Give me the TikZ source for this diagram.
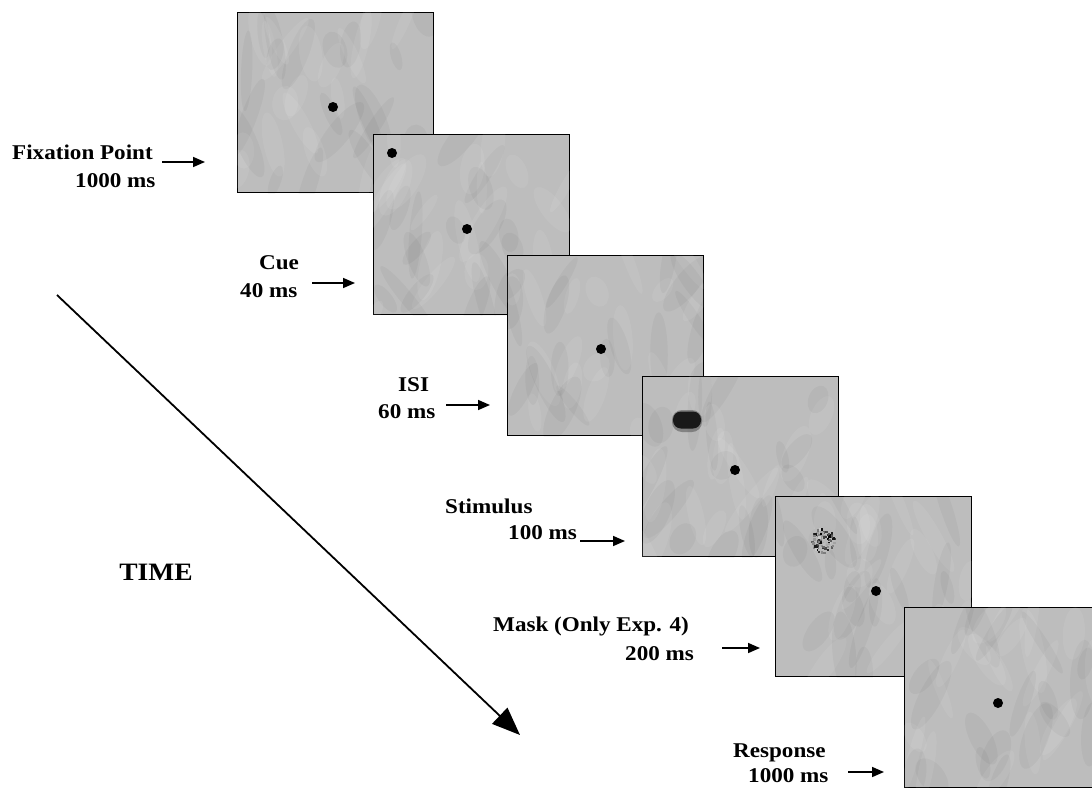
\documentclass[tikz,border=0pt]{standalone}
\usepackage{fontspec}
\setmainfont{Liberation Serif}[FakeStretch=1.1]
\usepackage{xcolor}
\usepackage{tikz}
\usetikzlibrary{arrows.meta}

\definecolor{scrgray}{gray}{0.74}

\tikzset{
  screen/.style={draw=black, line width=1.3pt, fill=scrgray, minimum width=196pt,
    minimum height=180pt, anchor=north west, inner sep=0pt},
  fixdot/.style={circle, fill=black, minimum size=10pt, inner sep=0pt},
  lbl/.style={font=\bfseries\fontsize{21}{25}\selectfont, anchor=base west, inner sep=0pt},
  pointer/.style={-{Triangle[length=12pt,width=10pt]}, line width=1.6pt},
  timearrow/.style={-{Triangle[length=28pt,width=22pt]}, line width=1.8pt},
}

% lighter and darker patches over a screen
\newcommand{\mottle}[1]{%
  \begin{scope}
    \clip (#1.north west) rectangle (#1.south east);
    \foreach \k in {1,...,40}{
      \pgfmathsetmacro{\mx}{rnd*196}
      \pgfmathsetmacro{\my}{rnd*180}
      \pgfmathsetmacro{\ma}{50+rnd*80}
      \pgfmathsetmacro{\ml}{14+rnd*30}
      \pgfmathsetmacro{\mw}{5+rnd*8}
      \begin{scope}[shift={(#1.north west)}, shift={(\mx,\my)}, rotate=\ma]
        \ifodd\k
          \fill[white, opacity=0.07] (0,0) ellipse [x radius=\ml pt, y radius=\mw pt];
        \else
          \fill[black, opacity=0.035] (0,0) ellipse [x radius=\ml pt, y radius=\mw pt];
        \fi
      \end{scope}
    }
  \end{scope}}

\begin{document}
\begin{tikzpicture}[x=1pt, y=-1pt]
\useasboundingbox (0,0) rectangle (1092,787);
\clip (0,0) rectangle (1092,787);
\pgfmathsetseed{11}

% screens, each one over the one before
\node[screen] (fix) at (237,12) {};
\mottle{fix}
\node[fixdot] (fixdot) at ([shift={(96,95)}]fix.north west) {};

\node[screen] (cue) at (373,134) {};
\mottle{cue}
\node[fixdot] (cuedot) at ([shift={(19,19)}]cue.north west) {};
\node[fixdot] (cuefix) at ([shift={(94,95)}]cue.north west) {};

\node[screen] (isi) at (507,255) {};
\mottle{isi}
\node[fixdot] (isidot) at ([shift={(94,94)}]isi.north west) {};

\node[screen] (stim) at (642,376) {};
\mottle{stim}
\node[fill=black, opacity=0.3, rounded corners=10pt, minimum width=30pt, minimum height=22pt, inner sep=0pt]
  (blobshade) at ([shift={(45,45)}]stim.north west) {};
\node[fill=black!90, rounded corners=8pt, minimum width=28pt, minimum height=17pt, inner sep=0pt]
  (target) at ([shift={(45,44)}]stim.north west) {};
\node[fixdot] (stimdot) at ([shift={(93,94)}]stim.north west) {};

\node[screen] (mask) at (775,496) {};
\mottle{mask}
\node[circle, fill=gray!55, minimum size=27pt, inner sep=0pt] (noise) at ([shift={(47,44)}]mask.north west) {};
\foreach \k in {1,...,90}{
  \pgfmathsetmacro{\rr}{12*sqrt(rnd)}
  \pgfmathsetmacro{\aa}{rnd*360}
  \pgfmathsetmacro{\gg}{int(20+rnd*80)}
  \fill[black!\gg] ([shift={(\aa:\rr)}]noise.center) rectangle ++(2.4,2.4);
}
\node[fixdot] (maskdot) at ([shift={(101,95)}]mask.north west) {};

\node[screen] (resp) at (904,607) {};
\mottle{resp}
\node[fixdot] (respdot) at ([shift={(94,96)}]resp.north west) {};

% labels
\node[lbl] (fixtxt) at (12,159) {Fixation Point};
\node[lbl] (fixms) at (75,187) {1000 ms};
\node[lbl] (cuetxt) at (259,269) {Cue};
\node[lbl] (cuems) at (240,297) {40 ms};
\node[lbl] (isitxt) at (398,391) {ISI};
\node[lbl] (isims) at (378,418) {60 ms};
\node[lbl] (stimtxt) at (445,513) {Stimulus};
\node[lbl] (stimms) at (508,539) {100 ms};
\node[lbl] (masktxt) at (493,631) {Mask (Only Exp. 4)};
\node[lbl] (maskms) at (625,660) {200 ms};
\node[lbl] (resptxt) at (733,757) {Response};
\node[lbl] (respms) at (748,782) {1000 ms};
\node[lbl, font=\bfseries\fontsize{25}{30}\selectfont, anchor=center] (time) at (156,572) {TIME};

% arrows to the screens
\coordinate (fixa) at (162,162);
\coordinate (cuea) at (312,283);
\coordinate (isia) at (446,405);
\coordinate (stima) at (580,541);
\coordinate (maska) at (722,648);
\coordinate (respa) at (848,772);
\draw[pointer, shorten >=32pt] (fixa) -- (fixa -| fix.west);
\draw[pointer, shorten >=18pt] (cuea) -- (cuea -| cue.west);
\draw[pointer, shorten >=17pt] (isia) -- (isia -| isi.west);
\draw[pointer, shorten >=17pt] (stima) -- (stima -| stim.west);
\draw[pointer, shorten >=15pt] (maska) -- (maska -| mask.west);
\draw[pointer, shorten >=20pt] (respa) -- (respa -| resp.west);

% time axis
\coordinate (tstart) at (57,295);
\coordinate (tend) at (520,735);
\draw[timearrow] (tstart) -- (tend);
\end{tikzpicture}
\end{document}
